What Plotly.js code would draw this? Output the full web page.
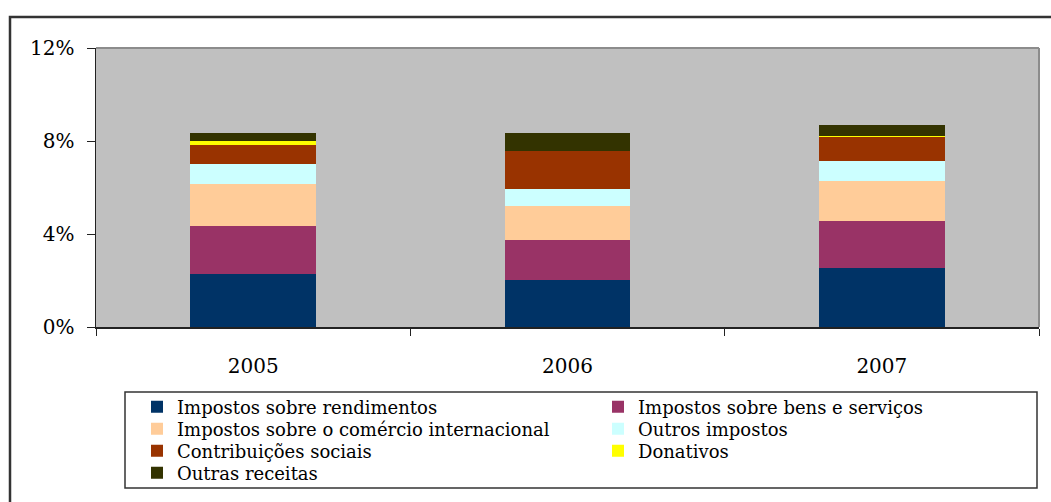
<!DOCTYPE html>
<html>
<head>
<meta charset="utf-8">
<script src="https://cdn.plot.ly/plotly-3.0.1.min.js"></script>
<style>html,body{margin:0;padding:0;background:#fff;}#chart{width:1051px;height:502px;}</style>
</head>
<body>
<div id="chart"></div>
<script>
var years = ['2005', '2006', '2007'];
var seriesNames = ['Impostos sobre rendimentos', 'Impostos sobre bens e serviços', 'Impostos sobre o comércio internacional', 'Outros impostos', 'Contribuições sociais', 'Donativos', 'Outras receitas'];
var rendimentos = [2.28, 2.02, 2.54];
var bensServicos = [2.06, 1.72, 2.02];
var comercioInt = [1.81, 1.46, 1.72];
var outrosImpostos = [0.86, 0.74, 0.86];
var contribuicoes = [0.82, 1.63, 1.03];
var donativos = [0.17, 0.0, 0.05];
var outrasReceitas = [0.36, 0.79, 0.47];
var colors = ['#003366', '#993366', '#FFCC99', '#CCFFFF', '#993300', '#FFFF00', '#333300'];
var yTicks = [0, 4, 8, 12];
var yTickText = ['0%', '4%', '8%', '12%'];

var values = [rendimentos, bensServicos, comercioInt, outrosImpostos, contribuicoes, donativos, outrasReceitas];
// legend rows: two entries per row, row-major
var legendIds = ['legend', 'legend', 'legend2', 'legend2', 'legend3', 'legend3', 'legend4'];
var traces = values.map(function (v, i) {
  return {
    type: 'bar', x: years, y: v, name: seriesNames[i], legend: legendIds[i],
    marker: {color: colors[i], line: {width: 0}},
    hoverinfo: 'x+y+name'
  };
});

var font = 'DejaVu Serif, Liberation Serif, serif';
var PX0 = 96, PW = 943, PY0 = 327, PH = 279;
function px(x) { return (x - PX0) / PW; }
function py(y) { return (PY0 - y) / PH; }
function legendRow(yc) {
  return {
    orientation: 'h', x: px(137), xanchor: 'left', y: py(yc), yanchor: 'middle',
    entrywidth: 416, entrywidthmode: 'pixels', traceorder: 'normal',
    bgcolor: 'rgba(0,0,0,0)', borderwidth: 0,
    font: {family: font, size: 18, color: '#000'}, itemclick: false, itemdoubleclick: false
  };
}
var layout = {
  width: 1051, height: 502,
  margin: {l: 96, r: 12, t: 48, b: 175, autoexpand: false},
  paper_bgcolor: '#ffffff', plot_bgcolor: '#C0C0C0',
  barmode: 'stack', bargap: 0.6,
  showlegend: true,
  font: {family: font, color: '#000', size: 20},
  xaxis: {
    type: 'category', showgrid: false, showline: true, linecolor: '#222', linewidth: 1.5,
    ticks: 'outside', tickson: 'boundaries', ticklen: 7, tickcolor: '#222',
    tickfont: {family: font, size: 20}, ticklabelstandoff: 20, fixedrange: true
  },
  yaxis: {
    range: [0, 12], tickvals: yTicks, ticktext: yTickText, showgrid: false, zeroline: false,
    showline: true, linecolor: '#222', linewidth: 1.5,
    ticks: 'outside', ticklen: 8, tickcolor: '#222',
    tickfont: {family: font, size: 20}, ticklabelstandoff: 8, fixedrange: true
  },
  legend: legendRow(407),
  legend2: legendRow(429),
  legend3: legendRow(451),
  legend4: legendRow(473),
  shapes: [
    {type: 'rect', xref: 'paper', yref: 'paper', x0: px(10), x1: 1.05, y0: -0.7, y1: py(17),
     line: {color: '#333', width: 2.5}, fillcolor: 'rgba(0,0,0,0)', layer: 'below'},
    {type: 'line', xref: 'paper', yref: 'paper', x0: 0, x1: 1, y0: 1, y1: 1, line: {color: '#8c8c8c', width: 2}},
    {type: 'line', xref: 'paper', yref: 'paper', x0: 1, x1: 1, y0: 0, y1: 1, line: {color: '#8c8c8c', width: 2}},
    {type: 'rect', xref: 'paper', yref: 'paper', x0: px(125), x1: px(1037), y0: py(488), y1: py(392),
     line: {color: '#333', width: 1.5}, fillcolor: '#ffffff', layer: 'below'}
  ]
};
Plotly.newPlot('chart', traces, layout, {displayModeBar: false, staticPlot: true});
</script>
</body>
</html>
